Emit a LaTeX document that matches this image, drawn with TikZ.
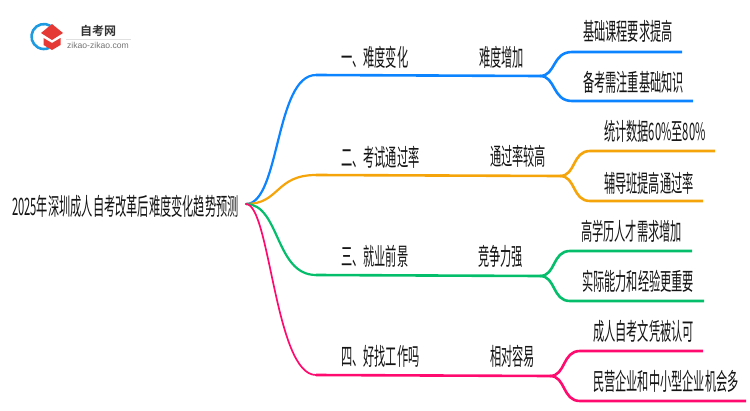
\documentclass[tikz,border=0pt]{standalone}
\usepackage{fontspec}
\setsansfont{Liberation Sans}
\newfontfamily\cjk{Noto Sans CJK SC}
\newfontfamily\logocjk{Noto Sans CJK SC Bold}
\definecolor{lineblue}{HTML}{0D84FF}
\definecolor{lineorange}{HTML}{F5A50A}
\definecolor{linegreen}{HTML}{05BE6B}
\definecolor{linepink}{HTML}{FF0A6E}
\definecolor{logored}{HTML}{E53935}
\definecolor{logoblue}{HTML}{1E9BE0}
\begin{document}
\begin{tikzpicture}[x=1pt,y=-1pt]
\tikzstyle{label} = [anchor=west,inner sep=0pt,xscale=0.467,transform shape,font=\cjk\fontsize{24}{24}\selectfont,text=black!92]
\tikzstyle{trunk} = [line width=2.2pt,line cap=round]
\tikzstyle{twig} = [line width=2.6pt]
\useasboundingbox (0,0) rectangle (750,410);
% logo
\draw[logoblue,line width=2.6pt] (50.25,25.7) arc (-60:-295:12.5);
\fill[logored] (41,33) -- (52,24) -- (63,33) -- (52,40) -- cycle;
\fill[logored] (43.5,38) -- (52,43) -- (60.5,38) -- (60.5,45) -- (52,50) -- (43.5,45) -- cycle;
\draw[black!12] (66,39) -- (131,39);
\node[inner sep=0pt,font=\logocjk\fontsize{12}{12}\selectfont,text=black!80] (logotext) at (98,31) {自考网};
\node[inner sep=0pt,font=\sffamily\fontsize{8.6}{8.6}\selectfont,text=black!55] (logourl) at (98,45) {zikao-zikao.com};
% root and left column
\node[label] (root) at (12,206) {2025年深圳成人自考改革后难度变化趋势预测};
\coordinate (start) at (246,204);
\node[label] (one) at (341,57) {一、难度变化};
\node[label] (two) at (341,157) {二、考试通过率};
\node[label] (three) at (341,256) {三、就业前景};
\node[label] (four) at (341,356) {四、好找工作吗};
\node[label] (onemid) at (479,57) {难度增加};
\node[label] (twomid) at (490,156) {通过率较高};
\node[label] (threemid) at (478,256) {竞争力强};
\node[label] (fourmid) at (490,356) {相对容易};
% leaves
\node[label] (onea) at (583,31) {基础课程要求提高};
\node[label] (oneb) at (583,82) {备考需注重基础知识};
\node[label] (twoa) at (604,131) {统计数据60\%至80\%};
\node[label] (twob) at (604,183) {辅导班提高通过率};
\node[label] (threea) at (581,231) {高学历人才需求增加};
\node[label] (threeb) at (582,281) {实际能力和经验更重要};
\node[label] (foura) at (593,331) {成人自考文凭被认可};
\node[label] (fourb) at (593,381) {民营企业和中小型企业机会多};
% junctions
\coordinate (kneeone) at (316,75);
\coordinate (knetwo) at (316,175);
\coordinate (knethree) at (316,275);
\coordinate (knefour) at (316,375);
\coordinate (forkone) at (540,76);
\coordinate (forktwo) at (560,176);
\coordinate (forkthree) at (540,276);
\coordinate (forkfour) at (550,376);
\coordinate (oneaend) at (682,52);
\coordinate (onebend) at (693,101);
\coordinate (twoaend) at (715,151);
\coordinate (twobend) at (703,201);
\coordinate (threeaend) at (692,251);
\coordinate (threebend) at (704,301);
\coordinate (fouraend) at (703,351);
\coordinate (fourbend) at (746,401);
% blue
\draw[trunk,lineblue] (start) .. controls (280,204) and (275,75) .. (kneeone);
\draw[twig,lineblue] (kneeone) -- (forkone);
\draw[twig,lineblue] (forkone) .. controls (556,76) and (552,52) .. (572,52) -- (oneaend);
\draw[twig,lineblue] (forkone) .. controls (556,76) and (552,101) .. (572,101) -- (onebend);
% orange
\draw[trunk,lineorange] (start) .. controls (280,204) and (275,175) .. (knetwo);
\draw[twig,lineorange] (knetwo) -- (forktwo);
\draw[twig,lineorange] (forktwo) .. controls (576,176) and (572,151) .. (590,151) -- (twoaend);
\draw[twig,lineorange] (forktwo) .. controls (576,176) and (572,201) .. (590,201) -- (twobend);
% green
\draw[trunk,linegreen] (start) .. controls (280,204) and (275,275) .. (knethree);
\draw[twig,linegreen] (knethree) -- (forkthree);
\draw[twig,linegreen] (forkthree) .. controls (556,276) and (552,251) .. (570,251) -- (threeaend);
\draw[twig,linegreen] (forkthree) .. controls (556,276) and (552,301) .. (570,301) -- (threebend);
% pink
\draw[trunk,linepink,line width=1.7pt] (start) .. controls (270,204) and (275,375) .. (knefour);
\draw[twig,linepink] (knefour) -- (forkfour);
\draw[twig,linepink] (forkfour) .. controls (566,376) and (562,351) .. (580,351) -- (fouraend);
\draw[twig,linepink] (forkfour) .. controls (566,376) and (562,401) .. (580,401) -- (fourbend);
\end{tikzpicture}
\end{document}
